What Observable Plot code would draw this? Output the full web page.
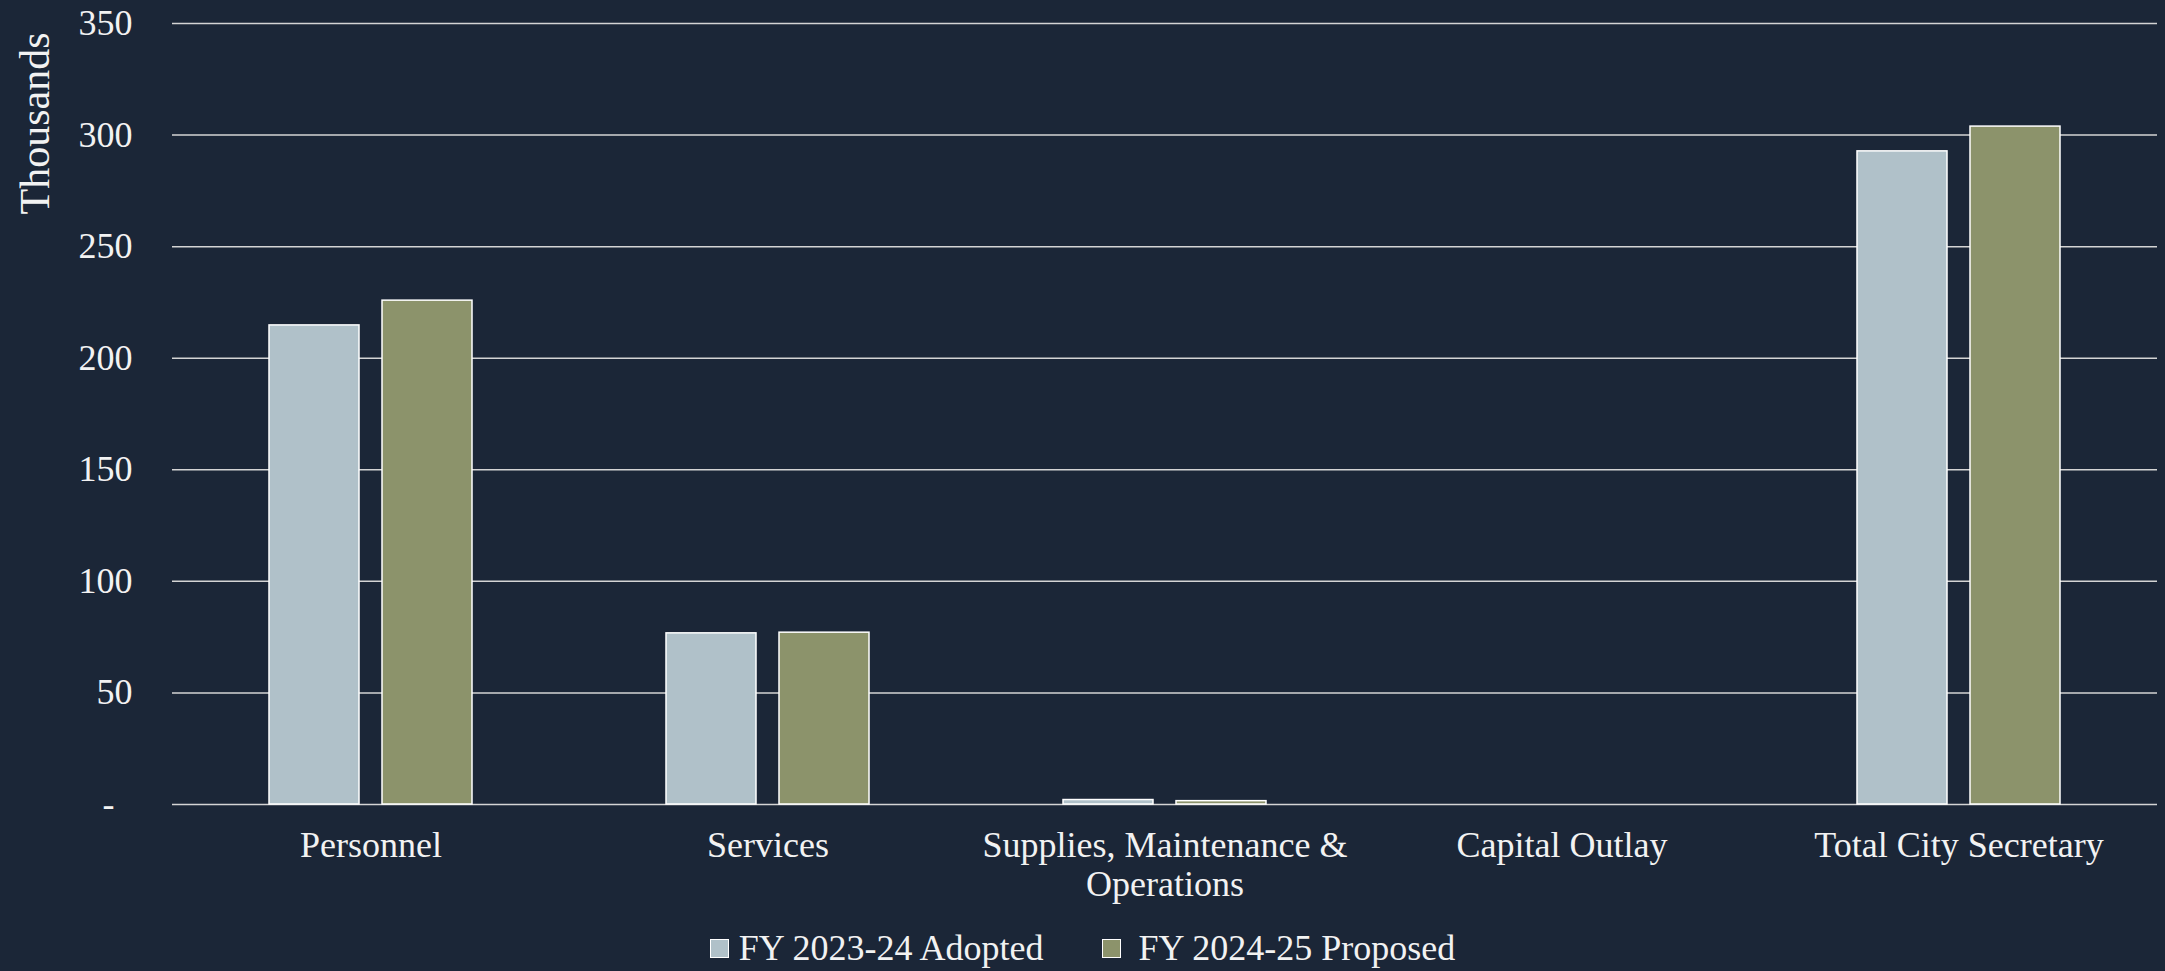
<!DOCTYPE html>
<html>
<head>
<meta charset="utf-8">
<script src="https://cdn.jsdelivr.net/npm/d3@7"></script>
<script src="https://cdn.jsdelivr.net/npm/@observablehq/plot@0.6"></script>
<style>
  html, body { margin: 0; padding: 0; background: #1b2637; overflow: hidden; }
  #legend {
    display: flex; justify-content: center; align-items: center;
    height: 46px; font-family: "Liberation Serif", serif; font-size: 36px; color: #f2f2f2;
  }
  .item { display: flex; align-items: center; }
  .sw { width: 17px; height: 17px; border: 1.5px solid #ffffff; display: inline-block; }
</style>
</head>
<body>
<div id="chart"></div>
<div id="legend"></div>
<script>
// ---- data ----
const categories = ["Personnel", "Services", "Supplies, Maintenance & Operations", "Capital Outlay", "Total City Secretary"];
const xLabels = ["Personnel", "Services", "Supplies, Maintenance &\nOperations", "Capital Outlay", "Total City Secretary"];
const seriesNames = ["FY 2023-24 Adopted", "FY 2024-25 Proposed"];
const adopted = [214.7, 76.7, 2.0, 0, 292.7];
const proposed = [225.8, 77.0, 1.5, 0, 303.8];
const seriesColors = ["#b0c1c9", "#8c936b"];
const yTicks = [0, 50, 100, 150, 200, 250, 300, 350];
const yTitle = "Thousands";

const data = categories.flatMap((c, i) => [
  {category: c, series: seriesNames[0], value: adopted[i]},
  {category: c, series: seriesNames[1], value: proposed[i]}
]);

const textColor = "#f2f2f2";
const chart = Plot.plot({
  width: 2165,
  height: 925,
  marginTop: 23,
  marginBottom: 121,
  marginLeft: 172,
  marginRight: 8,
  style: {background: "#1b2637", color: textColor, fontFamily: "'Liberation Serif', serif", fontSize: "36px"},
  x: {domain: categories, paddingInner: 0.488, paddingOuter: 0.244, label: null},
  y: {domain: [0, 350], label: null},
  color: {domain: seriesNames, range: seriesColors},
  marks: [
    Plot.ruleY(yTicks, {stroke: "#d4d4d4", strokeWidth: 1.5}),
    Plot.barY(data.filter(d => d.series === seriesNames[0] && d.value > 0),
      {x: "category", y: "value", fill: "series", stroke: "#ffffff", strokeWidth: 1.5, insetRight: 113}),
    Plot.barY(data.filter(d => d.series === seriesNames[1] && d.value > 0),
      {x: "category", y: "value", fill: "series", stroke: "#ffffff", strokeWidth: 1.5, insetLeft: 113}),
    Plot.axisY(yTicks, {tickSize: 0, tickPadding: 40, label: null, fontSize: 36,
      tickFormat: d => d === 0 ? "-\u2007" : String(d)}),
    Plot.axisX({tickSize: 0, tickPadding: 24, label: null, fontSize: 36, lineHeight: 1.1,
      tickFormat: c => xLabels[categories.indexOf(c)]}),
    Plot.text([yTitle], {frameAnchor: "top-left", rotate: -90, textAnchor: "end", lineAnchor: "middle",
      dx: -137, dy: 9, fontSize: 42, fill: textColor})
  ]
});
document.getElementById("chart").appendChild(chart);

// ---- legend ----
const legend = document.getElementById("legend");
const gaps = [10, 18];
seriesNames.forEach((name, i) => {
  const item = document.createElement("span");
  item.className = "item";
  if (i > 0) item.style.marginLeft = "58px";
  const sw = document.createElement("span");
  sw.className = "sw";
  sw.style.background = seriesColors[i];
  sw.style.marginRight = gaps[i] + "px";
  const t = document.createElement("span");
  t.textContent = name;
  item.appendChild(sw);
  item.appendChild(t);
  legend.appendChild(item);
});
</script>
</body>
</html>
